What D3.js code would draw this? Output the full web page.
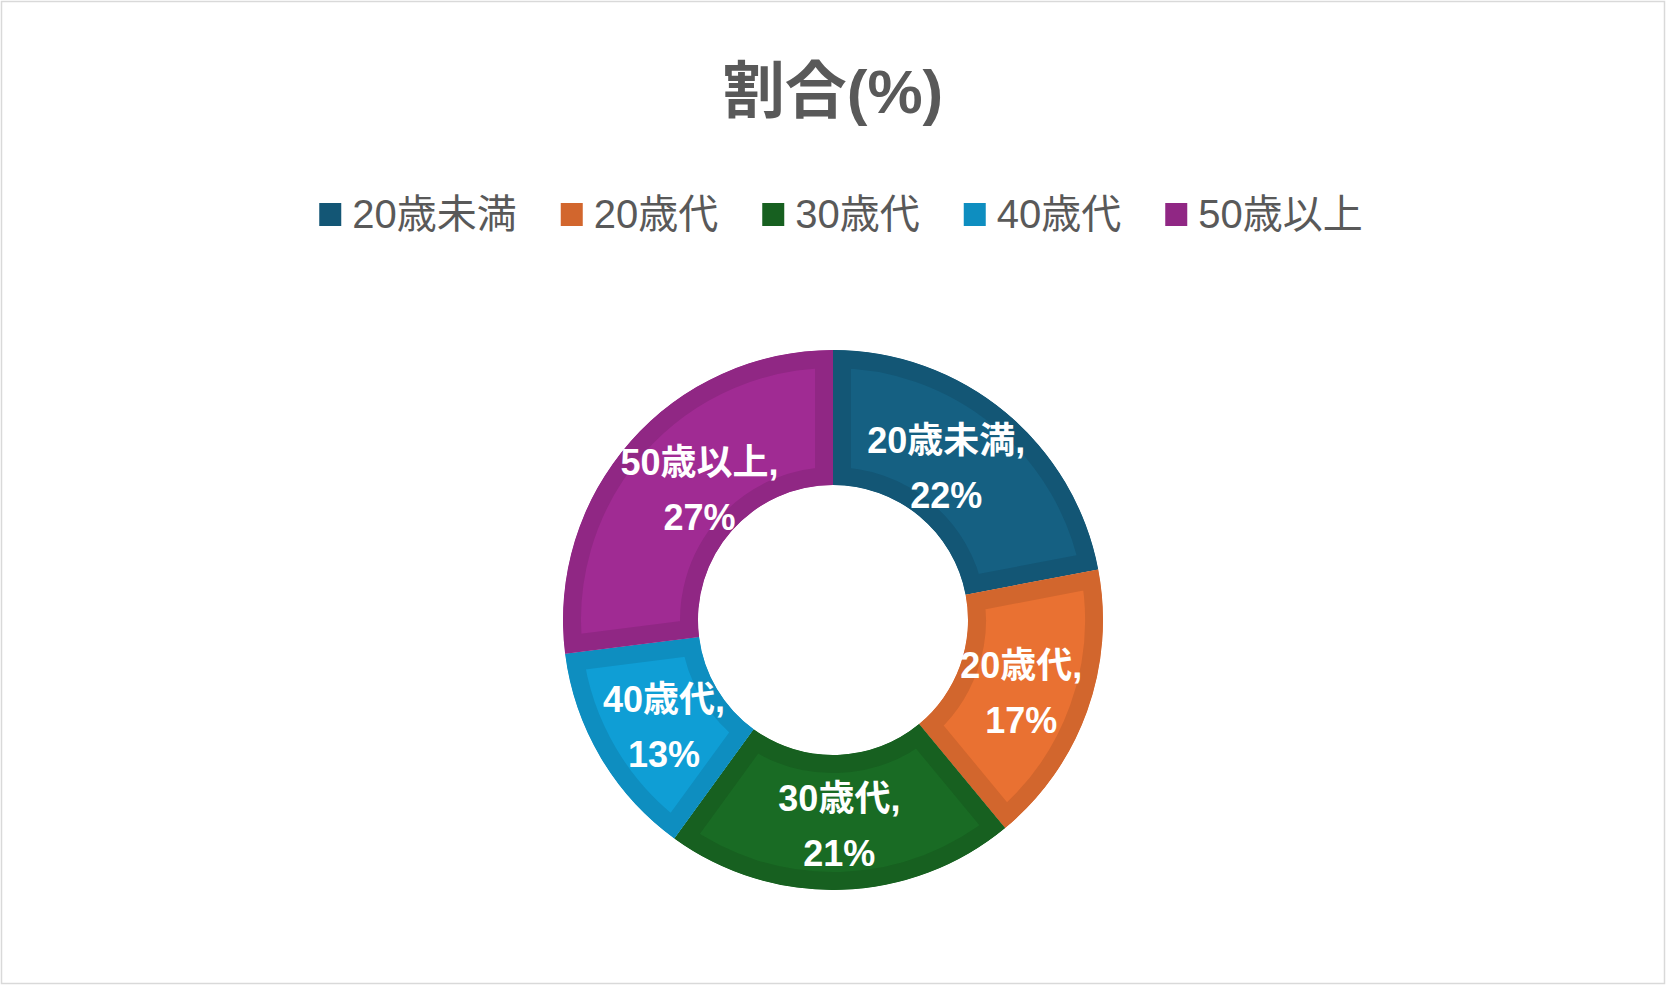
<!DOCTYPE html>
<html>
<head>
<meta charset="utf-8">
<script src="https://cdn.jsdelivr.net/npm/d3@7"></script>
<style>
  body { margin: 0; background: #fff; }
  text { font-family: "Liberation Sans", "Noto Sans CJK JP", sans-serif; }
</style>
</head>
<body>
<script>
const width = 1667;
const height = 987;

// data
const categories = ["20歳未満", "20歳代", "30歳代", "40歳代", "50歳以上"];
const values = [22, 17, 21, 13, 27];
const colors = ["#156082", "#E97132", "#196B24", "#0F9ED5", "#A02B93"];
const title = "割合(%)";

function shade(c, k) {
  let r = d3.rgb(c);
  return d3.rgb(r.r * k, r.g * k, r.b * k).formatHex();
}

let svg = d3
  .select("body")
  .append("svg")
  .attr("width", width)
  .attr("height", height);

svg
  .append("rect")
  .attr("x", 1.5)
  .attr("y", 1.5)
  .attr("width", 1663)
  .attr("height", 982)
  .attr("fill", "#fff")
  .attr("stroke", "#d9d9d9")
  .attr("stroke-width", 1.5);

svg
  .append("text")
  .attr("x", 833)
  .attr("y", 113)
  .attr("text-anchor", "middle")
  .attr("font-size", 62)
  .attr("font-weight", "bold")
  .attr("fill", "#595959")
  .text(title);

// legend
let legend = svg.append("g");
let legendItems = legend
  .selectAll("g")
  .data(categories)
  .join("g");

legendItems
  .append("rect")
  .attr("width", 22)
  .attr("height", 23)
  .attr("y", -11)
  .attr("fill", (d, i) => shade(colors[i], 0.9));

legendItems
  .append("text")
  .attr("x", 33)
  .attr("dy", "0.36em")
  .attr("font-size", 40)
  .attr("fill", "#595959")
  .text((d) => d);

let xPos = 0;
legendItems.each(function () {
  let w = d3.select(this).select("text").node().getComputedTextLength();
  d3.select(this).attr("transform", `translate(${xPos}, 0)`);
  xPos += 33 + w + 44;
});
let legendWidth = xPos - 44;
legend.attr("transform", `translate(${841 - legendWidth / 2}, 214)`);

// donut
const cx = 833;
const cy = 620;
const outer = 270;
const inner = 135;
const labelSize = 36;

let pie = d3.pie().sort(null).value((d) => d.value);
let arc = d3.arc().innerRadius(inner).outerRadius(outer);

let data = categories.map((c, i) => ({ name: c, value: values[i], color: colors[i] }));
let arcs = pie(data);

let donut = svg.append("g").attr("transform", `translate(${cx}, ${cy})`);

let defs = svg.append("defs");
defs
  .selectAll("clipPath")
  .data(arcs)
  .join("clipPath")
  .attr("id", (d, i) => "clip" + i)
  .append("path")
  .attr("d", arc);

donut
  .selectAll("path.slice")
  .data(arcs)
  .join("path")
  .attr("class", "slice")
  .attr("d", arc)
  .attr("fill", (d) => d.data.color)
  .attr("stroke", (d) => shade(d.data.color, 0.9))
  .attr("stroke-width", 36)
  .attr("stroke-linejoin", "miter")
  .attr("clip-path", (d, i) => `url(#clip${i})`);

let labels = donut
  .selectAll("text.label")
  .data(arcs)
  .join("text")
  .attr("class", "label")
  .attr("text-anchor", "middle")
  .attr("font-size", labelSize)
  .attr("font-weight", "bold")
  .attr("fill", "#fff");

labels
  .append("tspan")
  .attr("x", 0)
  .attr("y", -15)
  .text((d) => d.data.name + ",");

labels
  .append("tspan")
  .attr("x", 0)
  .attr("y", 40)
  .text((d) => d.data.value + "%");

// place at centroid, pull labels sideways to keep them inside the ring
labels.attr("transform", function (d) {
  let [x, y] = arc.centroid(d);
  y += 4;
  let w = d3.max(d3.select(this).selectAll("tspan").nodes(), (n) => n.getComputedTextLength());
  let top = y - 15 - 0.82 * labelSize;
  let bottom = y + 40 + 0.1 * labelSize;
  let yEdge = Math.max(Math.abs(top), Math.abs(bottom));
  let r = outer + 5;
  if (yEdge < r) {
    let limit = Math.sqrt(r * r - yEdge * yEdge);
    if (x + w / 2 > limit) x = limit - w / 2;
    if (x - w / 2 < -limit) x = -limit + w / 2;
  }
  return `translate(${x}, ${y})`;
});
</script>
</body>
</html>
